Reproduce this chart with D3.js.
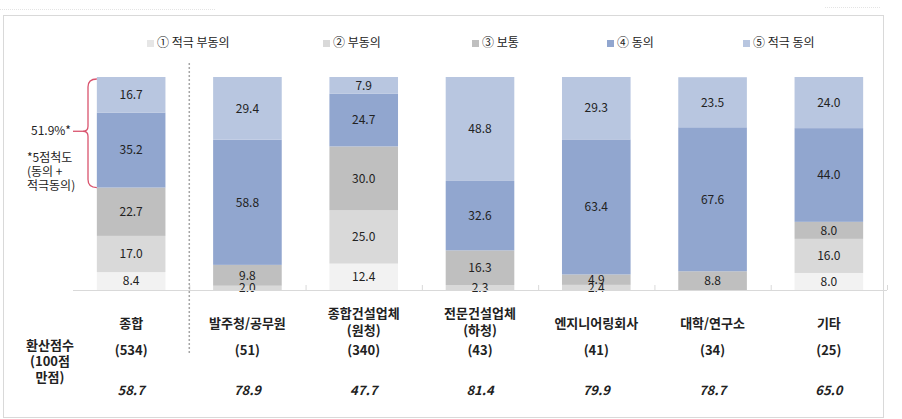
<!DOCTYPE html>
<html><head><meta charset="utf-8">
<script src="https://cdn.jsdelivr.net/npm/d3@7/dist/d3.min.js"></script>
<style>
body{margin:0;background:#fff;}
svg{display:block;font-family:"Malgun Gothic","Noto Sans CJK KR",sans-serif;}
</style></head>
<body><svg id="c" width="902" height="419"></svg>
<script>
const categories = ["종합","발주청/공무원","종합건설업체\n(원청)","전문건설업체\n(하청)","엔지니어링회사","대학/연구소","기타"];
const counts = [534,51,340,43,41,34,25];
const scores = ["58.7","78.9","47.7","81.4","79.9","78.7","65.0"];
const seriesNames = ["① 적극 부동의","② 부동의","③ 보통","④ 동의","⑤ 적극 동의"];
const s1 = [8.4,0,12.4,0,0,0,8.0];
const s2 = [17.0,2.0,25.0,2.3,2.4,0,16.0];
const s3 = [22.7,9.8,30.0,16.3,4.9,8.8,8.0];
const s4 = [35.2,58.8,24.7,32.6,63.4,67.6,44.0];
const s5 = [16.7,29.4,7.9,48.8,29.3,23.5,24.0];
const colors = ["#f2f2f2","#d9d9d9","#bfbfbf","#91a6cf","#b8c6e0"];

const svg = d3.select("#c");
const keys = ["s1","s2","s3","s4","s5"];
const rows = categories.map((c,i)=>({cat:c,s1:s1[i],s2:s2[i],s3:s3[i],s4:s4[i],s5:s5[i]}));
const stack = d3.stack().keys(keys)(rows);

const x = d3.scaleBand().domain(categories).range([73,887]).paddingInner(0.41).paddingOuter(0.205);
const y = d3.scaleLinear().domain([0,100]).range([290,77]);

// faint dotted lines on top
svg.append("line").attr("x1",0).attr("x2",215).attr("y1",9.5).attr("y2",9.5).attr("stroke","#e4e4e4").attr("stroke-dasharray","1,1");
svg.append("line").attr("x1",825).attr("x2",880).attr("y1",7.5).attr("y2",7.5).attr("stroke","#e4e4e4").attr("stroke-dasharray","1,1");
// frame
svg.append("rect").attr("x",3.5).attr("y",15.5).attr("width",880).attr("height",402).attr("fill","none").attr("stroke","#d9d9d9");

// legend
const lx = [147,323,472,607,743];
seriesNames.forEach((n,i)=>{
  svg.append("rect").attr("x",lx[i]).attr("y",40).attr("width",7).attr("height",7).attr("fill",colors[i]==="#f2f2f2"?"#e6e6e6":colors[i]);
  svg.append("text").attr("x",lx[i]+10).attr("y",43.5).attr("dominant-baseline","middle").attr("font-size",12).attr("fill","#222").text(n);
});

// bars
stack.forEach((layer,li)=>{
  svg.append("g").selectAll("rect").data(layer.filter(d=>d[1]-d[0]>0)).join("rect")
    .attr("x",d=>x(d.data.cat)).attr("width",x.bandwidth())
    .attr("y",d=>y(d[1])).attr("height",d=>y(d[0])-y(d[1]))
    .attr("fill",colors[li]);
});
stack.forEach((layer,li)=>{
  svg.append("g").selectAll("text").data(layer.filter(d=>d[1]-d[0]>0)).join("text")
    .attr("x",d=>x(d.data.cat)+x.bandwidth()/2)
    .attr("y",d=>(y(d[0])+y(d[1]))/2+1)
    .attr("text-anchor","middle").attr("dominant-baseline","middle")
    .attr("font-size",12).attr("fill","#222")
    .text(d=>(d[1]-d[0]).toFixed(1));
});

// axis line and ticks
const axis = d3.axisBottom(x).tickSize(0).tickFormat("");
const ag = svg.append("g").attr("transform","translate(0,290.5)").call(axis);
ag.select(".domain").attr("stroke","#d9d9d9").attr("d","M73,0H887");
const bounds = d3.range(1,categories.length+1).map(i=>x.range()[0]+i*x.step());
svg.append("g").selectAll("line").data(bounds).join("line")
  .attr("x1",d=>d+0.5).attr("x2",d=>d+0.5).attr("y1",285).attr("y2",290).attr("stroke","#d9d9d9");

// dotted separator
const sepX = x.range()[0]+x.step();
svg.append("line").attr("x1",sepX).attr("x2",sepX).attr("y1",63).attr("y2",353)
  .attr("stroke","#a6a6a6").attr("stroke-width",1.5).attr("stroke-dasharray","2,2");

// category labels
categories.forEach((c,i)=>{
  const cx = x(c)+x.bandwidth()/2;
  const lines = c.split("\n");
  const t = svg.append("text").attr("text-anchor","middle").attr("font-size",13).attr("font-weight","bold").attr("fill","#222");
  if(lines.length===1){
    t.append("tspan").attr("x",cx).attr("y",328).text(lines[0]);
  } else {
    t.append("tspan").attr("x",cx).attr("y",318).text(lines[0]);
    t.append("tspan").attr("x",cx).attr("y",335).text(lines[1]);
  }
  svg.append("text").attr("x",cx).attr("y",355).attr("text-anchor","middle").attr("font-size",13).attr("font-weight","bold").attr("fill","#222").text("("+counts[i]+")");
  svg.append("text").attr("x",cx).attr("y",395).attr("text-anchor","middle").attr("font-size",13).attr("font-weight","bold").attr("font-style","italic").attr("fill","#222").text(scores[i]);
});

// left row header
const lh = svg.append("text").attr("text-anchor","middle").attr("font-size",13).attr("font-weight","bold").attr("fill","#222");
[["환산점수",350],["(100점",366],["만점)",382]].forEach(([s,yy])=>lh.append("tspan").attr("x",50).attr("y",yy).text(s));

// brace annotation
const bTop = y(s1[0]+s2[0]+s3[0]+s4[0]+s5[0]) + 2;
const bBot = y(s1[0]+s2[0]+s3[0]);
const bMid = (bTop+bBot)/2 - 2;
const bx = 88, bEdge = x(categories[0]), tipX = 83;
const p = d3.path();
p.moveTo(bEdge, bTop);
p.quadraticCurveTo(bx, bTop, bx, bTop+8);
p.lineTo(bx, bMid-5);
p.quadraticCurveTo(bx, bMid, tipX, bMid);
p.quadraticCurveTo(bx, bMid, bx, bMid+5);
p.lineTo(bx, bBot-8);
p.quadraticCurveTo(bx, bBot, bEdge, bBot);
svg.append("path").attr("d",p.toString()).attr("fill","none").attr("stroke","#d9546e").attr("stroke-width",1.3);
svg.append("line").attr("x1",73).attr("x2",tipX).attr("y1",bMid).attr("y2",bMid).attr("stroke","#d9546e").attr("stroke-width",1.3);
const pct = (s4[0]+s5[0]).toFixed(1);
svg.append("text").attr("x",31).attr("y",bMid).attr("dominant-baseline","middle").attr("font-size",12).attr("fill","#222").text(pct+"%*");
const note = svg.append("text").attr("font-size",12).attr("fill","#222");
[["*5점척도",159],["(동의 +",173],["적극동의)",187]].forEach(([s,yy])=>note.append("tspan").attr("x",27).attr("y",yy).attr("dominant-baseline","middle").text(s));
</script></body></html>
